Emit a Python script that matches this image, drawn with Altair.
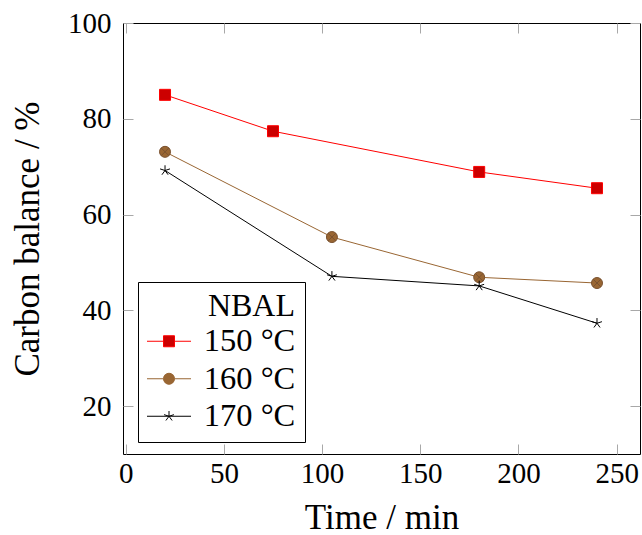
import altair as alt
import pandas as pd

# ---- data ----
series_names = ["150 °C", "160 °C", "170 °C"]
time_150 = [20, 75, 180, 240]
cb_150 = [85.0, 77.4, 68.9, 65.5]
time_160 = [20, 105, 180, 240]
cb_160 = [73.1, 55.3, 46.9, 45.7]
time_170 = [20, 105, 180, 240]
cb_170 = [69.2, 47.1, 45.1, 37.3]
x_ticks = [0, 50, 100, 150, 200, 250]
y_ticks = [20, 40, 60, 80, 100]

rows = []
for name, ts, vs in zip(series_names, [time_150, time_160, time_170], [cb_150, cb_160, cb_170]):
    for t, v in zip(ts, vs):
        rows.append({"series": name, "s_line": name, "s_shape": name, "s_stroke": name,
                     "time": t, "cb": v})
df = pd.DataFrame(rows)

FONT = "Liberation Serif"
line_colors = ["#ff0000", "#996633", "#000000"]
mark_fills = ["#cc0000", "#996633", "transparent"]
mark_strokes = ["#ff0000", "#7a5230", "#000000"]

sq = "M-1,-1H1V1H-1Z"
otimes = "M1,0A1,1,0,1,1,-1,0A1,1,0,1,1,1,0ZM-0.707,-0.707L0.707,0.707M-0.707,0.707L0.707,-0.707"
star = "M0,-0.95L0,0L0.9,-0.29M0,0L0.56,0.77M0,0L-0.56,0.77M0,0L-0.9,-0.29"

leg_sq = "M-4,0H-1M1,0H4" + sq
leg_ot = "M-4,0H-1M1,0H4" + otimes
leg_st = "M-4,0H4" + star


def pick(a, b, c):
    return alt.ExprRef(expr=f"datum.value === '150 °C' ? '{a}' : (datum.value === '160 °C' ? '{b}' : '{c}')")


xscale = alt.Scale(domain=[-1.4, 261.9], nice=False, zero=False)
yscale = alt.Scale(domain=[10, 100], nice=False, zero=False)

common_axis = dict(
    grid=False, domain=False, tickColor="#a8a8a8", tickWidth=1, tickSize=10, offset=-10,
    labelFont=FONT, labelFontSize=29, labelColor="black",
    titleFont=FONT, titleFontSize=35, titleFontWeight="normal", titleColor="black",
)

legend = alt.Legend(
    title="NBAL", orient="none", legendX=15, legendY=259,
    titleAnchor="end", titleFont=FONT, titleFontSize=32, titleFontWeight="normal",
    titleColor="black", titlePadding=2,
    labelFont=FONT, labelFontSize=32.5, labelColor="black",
    symbolSize=121, symbolOffset=5.75, labelOffset=18.5, rowPadding=4.5,
    symbolType=pick(leg_sq, leg_ot, leg_st),
    symbolStrokeColor=pick(*line_colors),
    symbolStrokeWidth=1, symbolOpacity=1,
    padding=9, strokeColor="black", fillColor="white",
)

lines = alt.Chart(df).mark_line(strokeWidth=1).encode(
    x=alt.X("time:Q", scale=xscale,
            axis=alt.Axis(values=x_ticks, title="Time / min", orient="bottom",
                          labelPadding=5, titlePadding=12, **common_axis)),
    y=alt.Y("cb:Q", scale=yscale,
            axis=alt.Axis(values=y_ticks, title="Carbon balance / %", orient="left",
                          labelPadding=12, titlePadding=22, **common_axis)),
    color=alt.Color("s_line:N", scale=alt.Scale(range=line_colors), legend=None),
)

points = alt.Chart(df).mark_point(opacity=1, strokeWidth=1, size=121).encode(
    x=alt.X("time:Q", scale=xscale,
            axis=alt.Axis(values=x_ticks, title=None, orient="top", labels=False, **common_axis)),
    y=alt.Y("cb:Q", scale=yscale,
            axis=alt.Axis(values=y_ticks, title=None, orient="right", labels=False, **common_axis)),
    shape=alt.Shape("s_shape:N", scale=alt.Scale(range=[sq, otimes, star]), legend=None),
    stroke=alt.Stroke("s_stroke:N", scale=alt.Scale(range=mark_strokes), legend=None),
    fill=alt.Fill("series:N", scale=alt.Scale(domain=series_names, range=mark_fills), legend=legend),
)

chart = alt.layer(lines, points).resolve_axis(x="independent", y="independent").properties(
    width=517, height=431,
    autosize=alt.AutoSizeParams(type="none"),
    padding={"left": 123, "top": 23, "right": 2, "bottom": 81},
    background="white",
).configure_view(stroke="black", strokeWidth=1)

chart.save("out.html", embed_options={"renderer": "svg", "actions": False})
